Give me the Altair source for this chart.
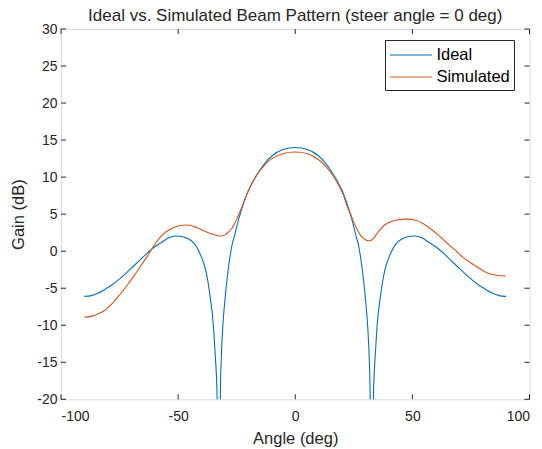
import altair as alt
import pandas as pd

# ---- data ----
ideal_angle = [-90, -87, -84, -81, -78, -75, -72, -69, -66, -63, -60, -57, -54, -51, -48,
               -45.5, -43, -41, -39, -37.5, -36.5, -35.3, -34.2, -33.5, -32.7, -31.8, -31,
               -30, -28.5, -27, -26, -24, -22, -20, -15, -10, -5, 0, 5, 10, 15, 20, 22, 24,
               26, 27, 28.5, 30, 31, 31.8, 32.7, 33.5, 34.2, 35.3, 36.5, 37.5, 39, 41, 43,
               45.5, 48, 51, 54, 57, 60, 63, 66, 69, 72, 75, 78, 81, 84, 87, 90]
ideal_gain = [-6.1, -6.0, -5.65, -5.1, -4.5, -3.75, -2.9, -2.0, -1.1, -0.2, 0.6, 1.2, 1.8,
              2.05, 1.95, 1.65, 1.0, -0.1, -1.7, -3.7, -5.8, -8.8, -13.8, -18.0, -45.0, -16.5,
              -10.5, -6.5, -2.2, 0.8, 2.0, 4.5, 6.5, 8.2, 11.0, 12.85, 13.75, 14.0, 13.75,
              12.85, 11.0, 8.2, 6.5, 4.5, 2.0, 0.8, -2.2, -6.5, -10.5, -16.5, -45.0, -18.0,
              -13.8, -8.8, -5.8, -3.7, -1.7, -0.1, 1.0, 1.65, 1.95, 2.05, 1.8, 1.2, 0.6, -0.2,
              -1.1, -2.0, -2.9, -3.75, -4.5, -5.1, -5.65, -6.0, -6.1]

sim_angle = [-90, -87, -84, -81, -78, -75, -72, -69, -66, -63, -60, -57, -54, -51, -48, -45,
             -42, -39, -36, -33, -31.5, -30, -28.5, -27, -25, -23, -21, -18, -15, -10, -5, 0,
             5, 10, 15, 18, 20.5, 22, 24, 26, 28, 30, 31.5, 33, 35, 38, 41, 44, 48, 51, 54,
             57, 61, 64.5, 68, 71.5, 75, 78.5, 82, 86, 90]
sim_gain = [-8.9, -8.8, -8.45, -7.9, -7.0, -5.9, -4.7, -3.4, -2.0, -0.6, 0.9, 2.1, 2.85, 3.3,
            3.5, 3.5, 3.2, 2.75, 2.35, 2.08, 2.05, 2.2, 2.6, 3.1, 4.3, 5.8, 7.4, 9.4, 10.9,
            12.5, 13.2, 13.4, 13.2, 12.35, 10.7, 9.2, 7.6, 6.2, 4.7, 3.2, 2.1, 1.55, 1.4, 1.6,
            2.4, 3.5, 4.0, 4.25, 4.33, 4.2, 3.85, 3.2, 2.2, 1.2, 0.2, -0.8, -1.6, -2.3, -2.95,
            -3.25, -3.35]

series_names = ["Ideal", "Simulated"]
series_colors = ["#0072BD", "#D95319"]
x_ticks = [-100, -50, 0, 50, 100]
y_ticks = [-20, -15, -10, -5, 0, 5, 10, 15, 20, 25, 30]

df = pd.concat([
    pd.DataFrame({"angle": ideal_angle, "gain": ideal_gain, "series": series_names[0]}),
    pd.DataFrame({"angle": sim_angle, "gain": sim_gain, "series": series_names[1]}),
])
xt = pd.DataFrame({"v": x_ticks})
yt = pd.DataFrame({"v": y_ticks})

W, H = 468.5, 370.3
FONT = "Liberation Sans"
AX = "#262626"
TL = 5
MINUS_FIX = "replace(datum.label, '\u2212', '-')"

xscale = alt.Scale(domain=[-100, 100], nice=False, zero=False)
yscale = alt.Scale(domain=[-20, 30], nice=False, zero=False)

xaxis = alt.Axis(values=x_ticks, title="Angle (deg)", grid=False, domain=False,
                 ticks=False, tickSize=0, labelPadding=10, labelFontSize=14,
                 labelFont=FONT, labelColor=AX, titleFont=FONT, titleFontSize=16.5,
                 titleFontWeight="normal", titleColor=AX, titlePadding=7,
                 labelOverlap=False, labelExpr=MINUS_FIX)
yaxis = alt.Axis(values=y_ticks, title="Gain (dB)", grid=False, domain=False,
                 ticks=False, tickSize=0, labelPadding=4, labelFontSize=14,
                 labelFont=FONT, labelColor=AX, titleFont=FONT, titleFontSize=16.5,
                 titleFontWeight="normal", titleColor=AX, titlePadding=10,
                 labelOverlap=False, labelExpr=MINUS_FIX)

lines = alt.Chart(df).mark_line(clip=True, strokeWidth=1.1, interpolate="catmull-rom").encode(
    x=alt.X("angle:Q", scale=xscale, axis=xaxis, title="Angle (deg)"),
    y=alt.Y("gain:Q", scale=yscale, axis=yaxis, title="Gain (dB)"),
    color=alt.Color("series:N", scale=alt.Scale(domain=series_names, range=series_colors),
                    legend=alt.Legend(title=None, orient="none", legendX=324, legendY=11,
                                      symbolType="M-1,0H3.2", symbolSize=400,
                                      symbolStrokeWidth=1.1, labelFont=FONT,
                                      labelFontSize=16.5, labelColor="#000000",
                                      labelOffset=25.4, rowPadding=2, padding=4,
                                      strokeColor=AX, fillColor="white")),
)

bottom = alt.Chart(xt).mark_rule(color=AX, strokeWidth=1).encode(
    x=alt.X("v:Q", scale=xscale, axis=xaxis, title="Angle (deg)"),
    y=alt.value(H), y2=alt.value(H - TL))
top = alt.Chart(xt).mark_rule(color=AX, strokeWidth=1).encode(
    x=alt.X("v:Q", scale=xscale, axis=xaxis, title="Angle (deg)"),
    y=alt.value(0), y2=alt.value(TL))
left = alt.Chart(yt).mark_rule(color=AX, strokeWidth=1).encode(
    y=alt.Y("v:Q", scale=yscale, axis=yaxis, title="Gain (dB)"),
    x=alt.value(0), x2=alt.value(TL))
right = alt.Chart(yt).mark_rule(color=AX, strokeWidth=1).encode(
    y=alt.Y("v:Q", scale=yscale, axis=yaxis, title="Gain (dB)"),
    x=alt.value(W), x2=alt.value(W - TL))

chart = alt.layer(lines, bottom, top, left, right).properties(
    width=W, height=H,
    autosize=alt.AutoSizeParams(type="none"),
    padding={"left": 61, "top": 29, "right": 542 - 61 - W, "bottom": 449 - 29 - H},
    title=alt.TitleParams(text="Ideal vs. Simulated Beam Pattern (steer angle = 0 deg)",
                          font=FONT, fontSize=17, fontWeight="normal", color=AX,
                          baseline="alphabetic", offset=7, dy=23, anchor="middle"),
).configure_view(stroke=AX, strokeWidth=1).configure(background="white")

chart.save("out.html", embed_options={"renderer": "svg", "actions": False})
